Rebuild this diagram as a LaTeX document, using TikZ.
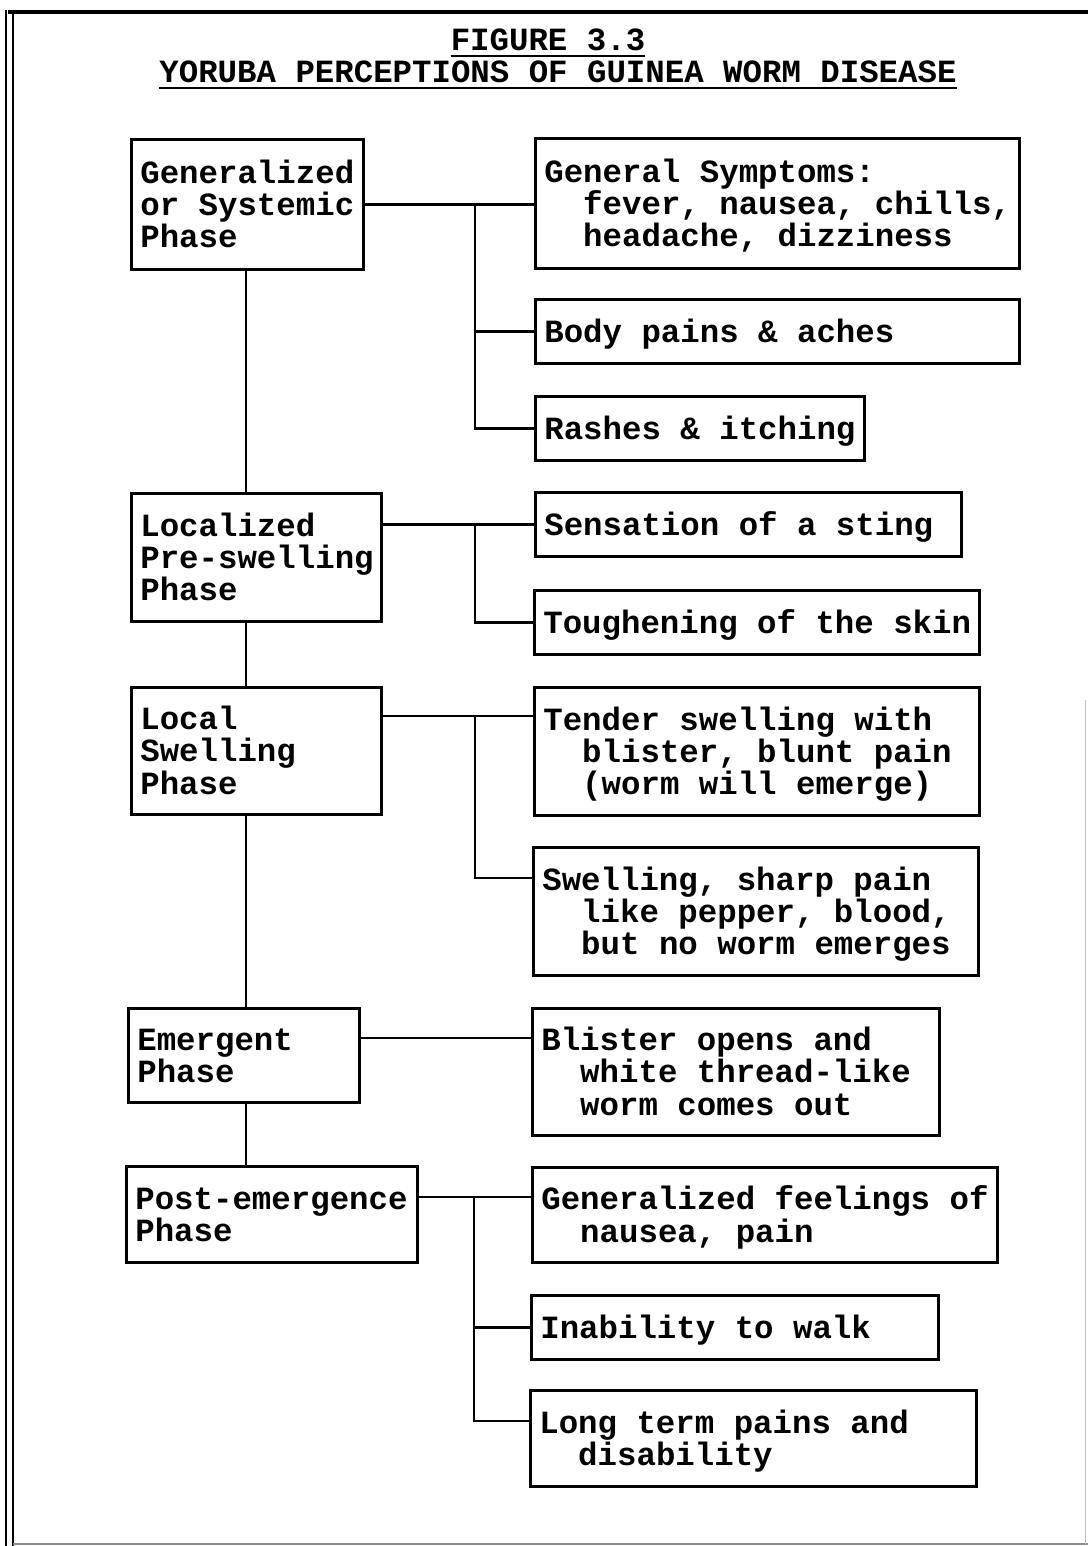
\documentclass[tikz,border=0pt]{standalone}
\usepackage{fontspec}
\setmonofont{Liberation Mono}
\newcommand\LineA[1]{\rule{0pt}{22pt}\smash{\spaceskip=0pt\xspaceskip=0pt#1}}
\newcommand\LineB[1]{\smash{\spaceskip=0pt\xspaceskip=0pt#1}}
\newcommand\Ind{\hphantom{xx}}
\newcommand\MonoSpace{\fontdimen2\font=19.44pt\fontdimen3\font=0pt\fontdimen4\font=0pt\relax}
\tikzset{
  txtfont/.style={font=\ttfamily\bfseries\fontsize{32.4pt}{32.3pt}\selectfont\MonoSpace},
  bx/.style={draw, line width=2.7pt, rectangle, anchor=north west, inner xsep=9pt,
    inner ysep=0pt, align=left, txtfont},
  boxat/.style n args={4}{at={(#1,#2)}, minimum width={#3-#1}, text width={#3-#1-18},
    minimum height={#4-#2}},
  ln/.style={line width=2.7pt},
  ttl/.style={txtfont, inner sep=0pt, anchor=base},
}
\begin{document}
\begin{tikzpicture}[x=1pt,y=-1pt]
\useasboundingbox (0,0) rectangle (1088,1546);
% frame
\draw[line width=4pt] (8,12) -- (1088,12);
\draw[line width=2.8pt] (6,10) -- (6,1546);
\draw[line width=2.8pt] (13,12) -- (13,1546);
\draw[line width=1.2pt, black!45] (13,1544) -- (1088,1544);
\draw[line width=1pt, black!25] (1085,700) -- (1085,1546);
% title
\node[ttl] (t1) at (548,51) {FIGURE 3.3};
\node[ttl] (t2) at (558,83) {YORUBA PERCEPTIONS OF GUINEA WORM DISEASE};
\draw[line width=2.4pt] ([yshift=-5pt]t1.base west) -- ([yshift=-5pt]t1.base east);
\draw[line width=2.4pt] ([yshift=-5pt]t2.base west) -- ([yshift=-5pt]t2.base east);
% left boxes
\node[bx, boxat={130}{138}{362}{268}] (L1) {\LineA{Generalized}\\\LineB{or Systemic}\\\LineB{Phase}};
\node[bx, boxat={130}{492}{380}{620}] (L2) {\LineA{Localized}\\\LineB{Pre-swelling}\\\LineB{Phase}};
\node[bx, boxat={130}{686}{380}{813}] (L3) {\LineA{Local}\\\LineB{Swelling}\\\LineB{Phase}};
\node[bx, boxat={127}{1007}{358}{1101}] (L4) {\LineA{Emergent}\\\LineB{Phase}};
\node[bx, boxat={125}{1165}{416}{1261}] (L5) {\LineA{Post-emergence}\\\LineB{Phase}};
% right boxes
\node[bx, boxat={534}{137}{1018}{267}] (R1) {\LineA{General Symptoms:}\\\LineB{\Ind fever, nausea, chills,}\\\LineB{\Ind headache, dizziness}};
\node[bx, boxat={534}{298}{1018}{362}] (R2) {\LineA{Body pains \& aches}};
\node[bx, boxat={534}{395}{863}{459}] (R3) {\LineA{Rashes \& itching}};
\node[bx, boxat={534}{491}{960}{555}] (R4) {\LineA{Sensation of a sting}};
\node[bx, boxat={533}{589}{978}{653}] (R5) {\LineA{Toughening of the skin}};
\node[bx, boxat={533}{686}{978}{814}] (R6) {\LineA{Tender swelling with}\\\LineB{\Ind blister, blunt pain}\\\LineB{\Ind (worm will emerge)}};
\node[bx, boxat={532}{846}{977}{974}] (R7) {\LineA{Swelling, sharp pain}\\\LineB{\Ind like pepper, blood,}\\\LineB{\Ind but no worm emerges}};
\node[bx, boxat={531}{1007}{938}{1134}] (R8) {\LineA{Blister opens and}\\\LineB{\Ind white thread-like}\\\LineB{\Ind worm comes out}};
\node[bx, boxat={531}{1166}{996}{1261}] (R9) {\LineA{Generalized feelings of}\\\LineB{\Ind nausea, pain}};
\node[bx, boxat={530}{1294}{937}{1358}] (R10) {\LineA{Inability to walk}};
\node[bx, boxat={529}{1389}{975}{1485}] (R11) {\LineA{Long term pains and}\\\LineB{\Ind disability}};
% helper coordinates
\coordinate (sp) at (246,0);
\coordinate (b1) at (475,0);
\coordinate (b5) at (474,0);
\coordinate (h3) at (0,716);
\coordinate (h3b) at (0,878);
\coordinate (h4) at (0,1038);
\coordinate (h5) at (0,1197);
\coordinate (h5c) at (0,1421);
% spine
\draw[ln] (L1.south -| sp) -- (L2.north -| sp);
\draw[ln] (L2.south -| sp) -- (L3.north -| sp);
\draw[ln] (L3.south -| sp) -- (L4.north -| sp);
\draw[ln] (L4.south -| sp) -- (L5.north -| sp);
% group 1
\draw[ln] (L1.east) -- (R1.west |- L1.east);
\draw[ln] (b1 |- L1.east) |- (R3.west);
\draw[ln] (b1 |- R2.west) -- (R2.west);
% group 2
\draw[ln] (L2.east |- R4.west) -- (R4.west);
\draw[ln] (b1 |- R4.west) |- (R5.west);
% group 3
\draw[ln] (L3.east |- h3) -- (R6.west |- h3);
\draw[ln] (b1 |- h3) |- (R7.west |- h3b);
% group 4
\draw[ln] (L4.east |- h4) -- (R8.west |- h4);
% group 5
\draw[ln] (L5.east |- h5) -- (R9.west |- h5);
\draw[ln] (b5 |- h5) |- (R11.west |- h5c);
\draw[ln] (b5 |- R10.west) -- (R10.west);
\end{tikzpicture}
\end{document}
